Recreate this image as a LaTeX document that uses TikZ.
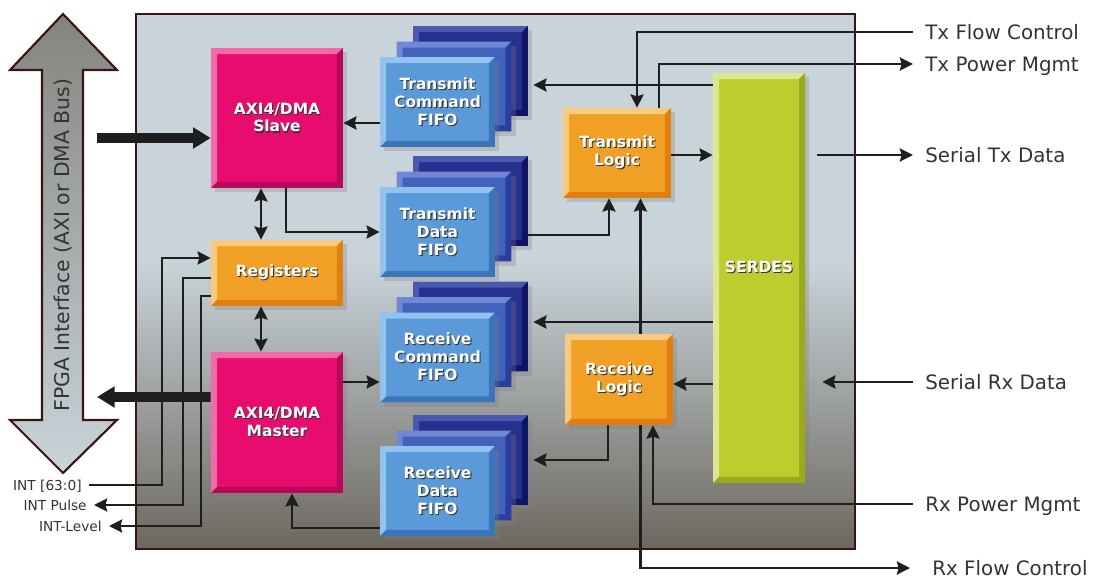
\documentclass[tikz,border=0pt]{standalone}
\usepackage{fontspec}
\setmainfont{DejaVu Sans}
\usetikzlibrary{arrows.meta, shadows}

\definecolor{panel}{HTML}{C9D4DA}
\definecolor{panelbot}{HTML}{6C685F}
\definecolor{busgrey}{HTML}{84847E}
\definecolor{frame}{HTML}{3A1414}
\definecolor{wire}{HTML}{1E1E1E}
\definecolor{lblgrey}{HTML}{333333}
\definecolor{axi}{HTML}{E80C6E}
\definecolor{axilt}{HTML}{F26AAA}
\definecolor{axidk}{HTML}{B8085A}
\definecolor{org}{HTML}{F0A024}
\definecolor{orglt}{HTML}{F8CA80}
\definecolor{orgdk}{HTML}{E07E10}
\definecolor{fifoa}{HTML}{5B9AD8}
\definecolor{fifoalt}{HTML}{92C2F0}
\definecolor{fifoadk}{HTML}{3C74BC}
\definecolor{fifob}{HTML}{4262BC}
\definecolor{fifoblt}{HTML}{7088D4}
\definecolor{fifobdk}{HTML}{2A3EA0}
\definecolor{fifoc}{HTML}{26308E}
\definecolor{fifoclt}{HTML}{4A58AE}
\definecolor{fifocdk}{HTML}{0E1468}
\definecolor{ser}{HTML}{BFCC2E}
\definecolor{serlt}{HTML}{DCE792}
\definecolor{serdk}{HTML}{9AAA1A}

\newcommand{\blkfont}{\fontsize{8.8}{10.2}\selectfont\bfseries}
\newcommand{\shd}[1]{\rlap{\kern0.6pt\raisebox{-0.6pt}{\color{black!80}#1}}#1}

\tikzset{
  bevel/.style n args={3}{fill=#1, draw=none, inner sep=0pt, align=center, text=white, font=\blkfont,
    drop shadow={opacity=0.3, shadow xshift=2.5pt, shadow yshift=-2.5pt},
    path picture={
      \fill[#2] (path picture bounding box.south west) -- (path picture bounding box.north west)
        -- (path picture bounding box.north east) -- ([shift={(-1.2mm,-1.2mm)}]path picture bounding box.north east)
        -- ([shift={(1.2mm,-1.2mm)}]path picture bounding box.north west) -- ([shift={(1.2mm,1.2mm)}]path picture bounding box.south west) -- cycle;
      \fill[#3] (path picture bounding box.north east) -- (path picture bounding box.south east)
        -- (path picture bounding box.south west) -- ([shift={(1.2mm,1.2mm)}]path picture bounding box.south west)
        -- ([shift={(-1.2mm,1.2mm)}]path picture bounding box.south east) -- ([shift={(-1.2mm,-1.2mm)}]path picture bounding box.north east) -- cycle;
    }},
  axibox/.style={bevel={axi}{axilt}{axidk}, minimum width=2.64cm},
  orgbox/.style={bevel={org}{orglt}{orgdk}},
  fifo1/.style={bevel={fifoa}{fifoalt}{fifoadk}, minimum width=2.3cm, minimum height=1.8cm},
  fifo2/.style={bevel={fifob}{fifoblt}{fifobdk}, minimum width=2.3cm, minimum height=1.8cm},
  fifo3/.style={bevel={fifoc}{fifoclt}{fifocdk}, minimum width=2.3cm, minimum height=1.8cm},
  serbox/.style={bevel={ser}{serlt}{serdk}, minimum width=1.84cm, minimum height=8.2cm},
  link/.style={draw=wire, line width=1.3pt, -{Stealth[length=7.5pt,width=7.5pt,inset=1pt]}},
  dlink/.style={draw=wire, line width=1.3pt, {Stealth[length=7.5pt,width=7.5pt,inset=1pt]}-{Stealth[length=7.5pt,width=7.5pt,inset=1pt]}},
  bus/.style={draw=wire, line width=5.6pt, -{Triangle[length=10pt,width=11.5pt]}},
  sidelbl/.style={font=\fontsize{11.3}{13}\selectfont, text=lblgrey, anchor=west, inner xsep=0.24cm, inner ysep=0pt, text height=8.2pt, text depth=0pt},
  intlbl/.style={font=\fontsize{7.8}{9}\selectfont, text=lblgrey, anchor=east, inner xsep=0.14cm, inner ysep=0pt, text height=5.7pt, text depth=0pt}
}

\begin{document}
\begin{tikzpicture}[x=0.02cm, y=-0.02cm]
\useasboundingbox (0,0) rectangle (1095,581);

% Panel
\fill[panel] (136,14) rectangle (855,262);
\shade[top color=panel, bottom color=panelbot] (136,260) rectangle (855,549);
\draw[frame, line width=1.3pt] (136,14) rectangle (855,549);

% FPGA bus
\shadedraw[top color=busgrey, bottom color=panel, draw=frame, line width=1.2pt]
  (63,14) -- (117,70) -- (83,70) -- (83,420) -- (117,420) -- (63,473)
  -- (10,420) -- (42,420) -- (42,70) -- (10,70) -- cycle;
\node[rotate=90, font=\fontsize{11.6}{13}\selectfont, text=lblgrey] (buslbl) at (63,245) {FPGA Interface (AXI or DMA Bus)};

% AXI side
\node[axibox, minimum height=2.8cm] (slave) at (277,118) {\shd{AXI4/DMA}\\\shd{Slave}};
\node[orgbox, minimum width=2.64cm, minimum height=1.32cm] (regs) at (277,273) {\shd{Registers}};
\node[axibox, minimum height=2.82cm] (master) at (277,422.5) {\shd{AXI4/DMA}\\\shd{Master}};

% FIFO stacks
\foreach \n/\y in {txcmd/102, txdata/232, rxcmd/357.5, rxdata/491} {
  \node[fifo3] (\n3) at (470.5,\y-31) {};
  \node[fifo2] (\n2) at (454,\y-15.5) {};
}
\node[fifo1] (txcmd) at (437.5,102) {\shd{Transmit}\\\shd{Command}\\\shd{FIFO}};
\node[fifo1] (txdata) at (437.5,232) {\shd{Transmit}\\\shd{Data}\\\shd{FIFO}};
\node[fifo1] (rxcmd) at (437.5,357.5) {\shd{Receive}\\\shd{Command}\\\shd{FIFO}};
\node[fifo1] (rxdata) at (437.5,491) {\shd{Receive}\\\shd{Data}\\\shd{FIFO}};

% Logic and SERDES
\node[orgbox, minimum width=2.16cm, minimum height=1.8cm] (txlogic) at (617,153) {\shd{Transmit}\\\shd{Logic}};
\node[orgbox, minimum width=2.16cm, minimum height=1.82cm] (rxlogic) at (619,379.5) {\shd{Receive}\\\shd{Logic}};
\node[serbox] (serdes) at (759,278) {\raisebox{0.44cm}{\shd{SERDES}}};

% Outside labels
\node[sidelbl] (txfc) at (913,32) {Tx Flow Control};
\node[sidelbl] (txpm) at (913,64) {Tx Power Mgmt};
\node[sidelbl] (stxd) at (913,155) {Serial Tx Data};
\node[sidelbl] (srxd) at (913,382) {Serial Rx Data};
\node[sidelbl] (rxpm) at (913,504) {Rx Power Mgmt};
\node[sidelbl, inner xsep=0.44cm] (rxfc) at (910,568) {Rx Flow Control};
\node[intlbl] (intv) at (89,485) {INT [63:0]};
\node[intlbl] (intp) at (94,505) {INT Pulse};
\node[intlbl] (intl) at (109,526) {INT-Level};

% Bus arrows
\coordinate (busin) at (97,138);
\coordinate (busout) at (97,397);
\draw[bus] (busin) -- (busin -| slave.west);
\draw[bus] ([yshift=0.51cm]master.west) -- (busout);

% AXI side links
\draw[dlink] ([xshift=-0.32cm]slave.south) -- ([xshift=-0.32cm]regs.north);
\draw[dlink] ([xshift=-0.32cm]regs.south) -- ([xshift=-0.32cm]master.north);
\draw[link] ([xshift=0.18cm]slave.south) |- (txdata.west);
\draw[link] ([yshift=-0.42cm]txcmd.west) -- ([yshift=-0.42cm]txcmd.west -| slave.east);
\draw[link] ([yshift=0.81cm]master.east) -- ([yshift=0.81cm]master.east -| rxcmd.west);
\draw[link] ([yshift=-0.74cm]rxdata.west) -| ([xshift=0.3cm]master.south);

% Interrupt lines
\draw[link] (intv.east) -| ([xshift=-0.98cm,yshift=0.3cm]regs.west) -- ([yshift=0.3cm]regs.west);
\draw[link] ([yshift=-0.1cm]regs.west) -- ([xshift=-0.56cm,yshift=-0.1cm]regs.west) |- (intp.east);
\draw[link] ([yshift=-0.46cm]regs.west) -- ([xshift=-0.2cm,yshift=-0.46cm]regs.west) |- (intl.east);

% Transmit path
\draw[link, shorten >=1mm] ([yshift=-0.28cm]txcmd3.east -| serdes.west) -- ([yshift=-0.28cm]txcmd3.east);
\draw[link] (txfc.west) -| ([xshift=0.4cm]txlogic.north);
\draw[link] ([xshift=0.84cm]txlogic.north) |- (txpm.west);
\draw[link] ([yshift=-0.04cm]txlogic.east) -- ([yshift=-0.04cm]txlogic.east -| serdes.west);
\draw[link, shorten <=0.24cm] (stxd.west -| serdes.east) -- (stxd.west);
\draw[link] ([yshift=-0.68cm]txdata3.east) -| ([xshift=-0.16cm]txlogic.south);
\draw[link] ([xshift=0.43cm]rxlogic.north) -- ([xshift=0.43cm]rxlogic.north |- txlogic.south);

% Receive path
\draw[link, shorten >=1mm] ([yshift=0.09cm]rxcmd3.east -| serdes.west) -- ([yshift=0.09cm]rxcmd3.east);
\draw[link] ([yshift=-0.09cm]rxlogic.east -| serdes.west) -- ([yshift=-0.09cm]rxlogic.east);
\draw[link, shorten >=0.34cm] (srxd.west) -- (srxd.west -| serdes.east);
\draw[link, shorten >=1mm] ([xshift=-0.22cm]rxlogic.south) |- (rxdata3.east);
\draw[link] (rxpm.west) -| ([xshift=0.68cm]rxlogic.south);
\draw[link] ([xshift=0.43cm]rxlogic.south) |- (rxfc.west);
\end{tikzpicture}
\end{document}
